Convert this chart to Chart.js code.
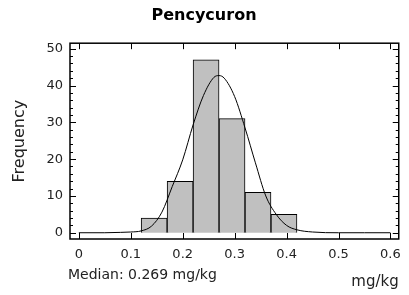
<!DOCTYPE html>
<html>
<head>
<meta charset="utf-8">
<script src="https://cdn.jsdelivr.net/npm/chart.js@4/dist/chart.umd.min.js"></script>
<style>
  html, body { margin: 0; padding: 0; background: #fff; }
  canvas { display: block; }
</style>
</head>
<body>
<canvas id="grafico" width="409" height="295"></canvas>
<script>
// ---- DADOS ----
const binCenters = [0.145, 0.195, 0.245, 0.295, 0.345, 0.395];
const frequencies = [4, 14, 47, 31, 11, 5];

// curva normal
const curveX = [0, 0.05, 0.08, 0.10, 0.12, 0.14, 0.16, 0.18, 0.20, 0.22, 0.24, 0.26, 0.27, 0.28, 0.30, 0.32, 0.34, 0.36, 0.38, 0.40, 0.42, 0.45, 0.50, 0.55, 0.60];
const curveY = [0, 0, 0.1, 0.2, 0.5, 1.8, 5.6, 12.6, 19.8, 29.3, 37.3, 42.2, 42.7, 42.0, 37.0, 28.5, 19.0, 10.0, 5.0, 2.0, 0.8, 0.2, 0, 0, 0];

const xTicks = [0, 0.1, 0.2, 0.3, 0.4, 0.5, 0.6];
const yTicks = [0, 10, 20, 30, 40, 50];
const yMinorTicks = [0, 2, 4, 6, 8, 10, 12, 14, 16, 18, 20, 22, 24, 26, 28, 30, 32, 34, 36, 38, 40, 42, 44, 46, 48, 50];

const medianText = "Median: 0.269 mg/kg";
const fonte = "'DejaVu Sans', sans-serif";

// ---- MOLDURA E TICKS PARA DENTRO ----
const molduraPlugin = {
    id: "moldura",
    afterDraw(chart) {
        const { ctx, chartArea: a, scales } = chart;
        ctx.save();
        ctx.strokeStyle = "#000";
        ctx.lineWidth = 1;
        ctx.beginPath();
        xTicks.forEach(v => {
            const px = Math.round(scales.x.getPixelForValue(v)) + 0.5;
            ctx.moveTo(px, a.bottom); ctx.lineTo(px, a.bottom - 6);
            ctx.moveTo(px, a.top); ctx.lineTo(px, a.top + 6);
        });
        yMinorTicks.forEach(v => {
            const py = Math.round(scales.y.getPixelForValue(v)) + 0.5;
            const len = (v % 10 === 0) ? 6 : 3;
            ctx.moveTo(a.left, py); ctx.lineTo(a.left + len, py);
            ctx.moveTo(a.right, py); ctx.lineTo(a.right - len, py);
        });
        ctx.stroke();
        ctx.lineWidth = 1.5;
        ctx.strokeRect(a.left, a.top, a.right - a.left, a.bottom - a.top);

        ctx.fillStyle = "#222";
        ctx.font = "14px " + fonte;
        ctx.textAlign = "left";
        ctx.textBaseline = "middle";
        ctx.fillText(medianText, 68, 275);
        ctx.restore();
    }
};

const ctx = document.getElementById("grafico").getContext("2d");
new Chart(ctx, {
    data: {
        datasets: [
            {
                type: "line",
                label: "Normal",
                data: curveX.map((x, i) => ({ x: x, y: curveY[i] })),
                borderColor: "#000",
                borderWidth: 1,
                pointRadius: 0,
                cubicInterpolationMode: "monotone",
                fill: false,
                order: 0
            },
            {
                type: "bar",
                label: "Frequency",
                data: binCenters.map((x, i) => ({ x: x, y: frequencies[i] })),
                backgroundColor: "#c0c0c0",
                borderColor: "#000",
                borderWidth: 1,
                barPercentage: 1,
                categoryPercentage: 1,
                order: 1
            }
        ]
    },
    options: {
        responsive: false,
        animation: false,
        events: [],
        layout: { padding: { left: 8, right: 9, top: 0, bottom: 0 } },
        plugins: {
            legend: { display: false },
            tooltip: { enabled: false },
            title: {
                display: true,
                text: "Pencycuron",
                color: "#000",
                font: { family: fonte, size: 16, weight: "bold", lineHeight: 1.2 },
                padding: { top: 6, bottom: 18 }
            }
        },
        scales: {
            x: {
                type: "linear",
                offset: false,
                min: -0.017,
                max: 0.616,
                grid: { display: false, drawTicks: false, offset: false },
                border: { display: false },
                afterBuildTicks: s => { s.ticks = xTicks.map(v => ({ value: v })); },
                afterFit: s => { s.height = 56; },
                ticks: {
                    color: "#222",
                    padding: 8,
                    font: { family: fonte, size: 13 },
                    callback: v => String(v)
                },
                title: {
                    display: true,
                    text: "mg/kg",
                    align: "end",
                    color: "#222",
                    font: { family: fonte, size: 15 },
                    padding: { top: 0 }
                }
            },
            y: {
                type: "linear",
                min: -1.7,
                max: 51.5,
                grid: { display: false, drawTicks: false },
                border: { display: false },
                afterBuildTicks: s => { s.ticks = yTicks.map(v => ({ value: v })); },
                afterFit: s => { s.width = 62; },
                ticks: {
                    color: "#222",
                    padding: 7,
                    font: { family: fonte, size: 13 }
                },
                title: {
                    display: true,
                    text: "Frequency",
                    color: "#222",
                    font: { family: fonte, size: 16 },
                    padding: { top: 2, bottom: 0 }
                }
            }
        }
    },
    plugins: [molduraPlugin]
});
</script>
</body>
</html>
